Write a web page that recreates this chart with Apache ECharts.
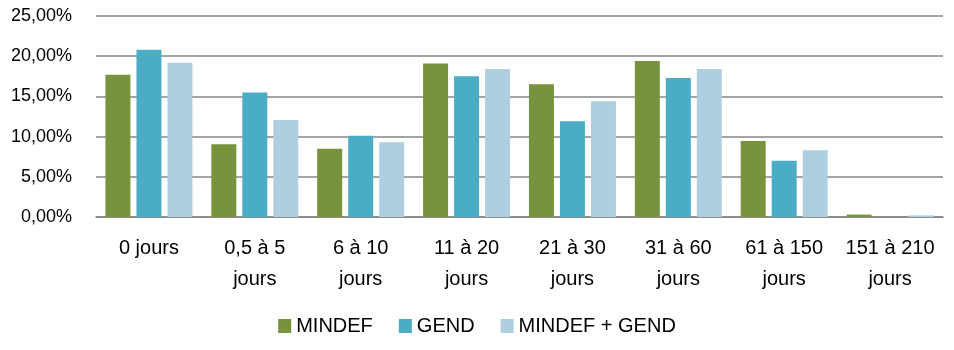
<!DOCTYPE html>
<html><head><meta charset="utf-8">
<script src="https://cdn.jsdelivr.net/npm/echarts@6/dist/echarts.min.js"></script>
<style>html,body{margin:0;padding:0;background:#fff}#c{width:954px;height:350px}</style>
</head><body><div id="c"></div>
<script>
const categories = ["0 jours","0,5 à 5 jours","6 à 10 jours","11 à 20 jours","21 à 30 jours","31 à 60 jours","61 à 150 jours","151 à 210 jours"];
const seriesNames = ["MINDEF","GEND","MINDEF + GEND"];
const mindef = [17.7, 9.05, 8.5, 19.1, 16.5, 19.4, 9.45, 0.3];
const gend = [20.8, 15.5, 10.1, 17.5, 11.9, 17.3, 7.0, 0];
const mindefGend = [19.2, 12.05, 9.3, 18.4, 14.4, 18.4, 8.3, 0.2];
const yTicks = [0, 5, 10, 15, 20, 25];

const colors = ["#77933C", "#4BACC6", "#AFCFE0"];
const font = "Liberation Sans";
const chart = echarts.init(document.getElementById('c'), null, {renderer:'canvas'});
const mk = (name, data, i) => ({
  name, type:'bar', data, barWidth:25, barGap:'24%',
  itemStyle:{color:colors[i]}
});
chart.setOption({
  animation:false,
  textStyle:{fontFamily:font},
  grid:{left:96, right:11, top:16, bottom:133},
  legend:{
    data:seriesNames, bottom:9, left:'center', itemWidth:13, itemHeight:14, itemGap:26,
    icon:'rect', textStyle:{fontSize:20, color:'#000', fontFamily:font}
  },
  xAxis:{
    type:'category', data:categories,
    axisLine:{lineStyle:{color:'#868686', width:1.5}},
    axisTick:{show:false},
    axisLabel:{interval:0, fontSize:20, color:'#000', lineHeight:31, margin:16,
      formatter:v => v === "0 jours" ? v : v.replace(" jours", "\njours")}
  },
  yAxis:{
    type:'value', min:yTicks[0], max:yTicks[yTicks.length-1], interval:5,
    axisLine:{show:false}, axisTick:{show:false},
    splitLine:{lineStyle:{color:'#868686', width:1.5}},
    axisLabel:{fontSize:18, color:'#000', margin:24,
      formatter:v => v.toFixed(2).replace('.', ',') + '%'}
  },
  series:[mk(seriesNames[0], mindef, 0), mk(seriesNames[1], gend, 1), mk(seriesNames[2], mindefGend, 2)]
});
</script></body></html>
